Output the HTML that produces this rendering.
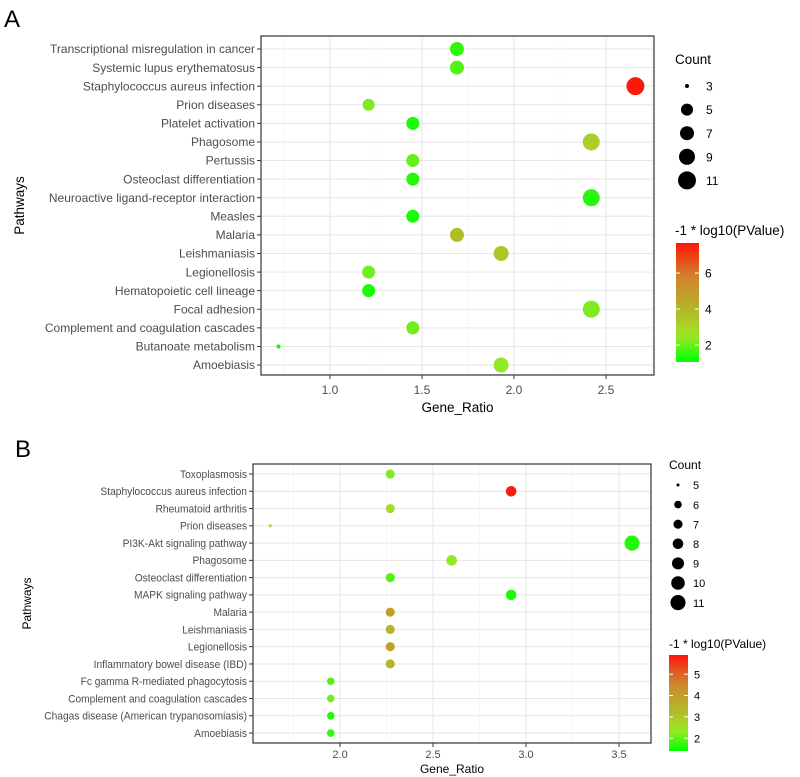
<!DOCTYPE html>
<html><head><meta charset="utf-8"><style>
body{margin:0;background:#fff;}
svg{display:block;font-family:"Liberation Sans",Arial,sans-serif;}
</style></head><body>
<svg id="s" width="800" height="777" viewBox="0 0 800 777"></svg>
<script>
const pathwaysA=["Transcriptional misregulation in cancer","Systemic lupus erythematosus","Staphylococcus aureus infection","Prion diseases","Platelet activation","Phagosome","Pertussis","Osteoclast differentiation","Neuroactive ligand-receptor interaction","Measles","Malaria","Leishmaniasis","Legionellosis","Hematopoietic cell lineage","Focal adhesion","Complement and coagulation cascades","Butanoate metabolism","Amoebiasis"];
const ratioA=[1.69,1.69,2.66,1.21,1.45,2.42,1.45,1.45,2.42,1.45,1.69,1.93,1.21,1.21,2.42,1.45,0.72,1.93];
const countA=[7,7,11,5,6,10,6,6,10,6,7,8,6,6,10,6,3,8];
const pvalA=[1.5,1.8,7.6,2.2,1.3,3.2,2.0,1.4,1.4,1.3,3.8,3.5,2.1,1.3,2.2,2.1,1.1,2.4];
const xTicksA=[1.0,1.5,2.0,2.5];
const countLegA=[3,5,7,9,11];
const colTicksA=[2,4,6];

const pathwaysB=["Toxoplasmosis","Staphylococcus aureus infection","Rheumatoid arthritis","Prion diseases","PI3K-Akt signaling pathway","Phagosome","Osteoclast differentiation","MAPK signaling pathway","Malaria","Leishmaniasis","Legionellosis","Inflammatory bowel disease (IBD)","Fc gamma R-mediated phagocytosis","Complement and coagulation cascades","Chagas disease (American trypanosomiasis)","Amoebiasis"];
const ratioB=[2.27,2.92,2.27,1.625,3.57,2.60,2.27,2.92,2.27,2.27,2.27,2.27,1.95,1.95,1.95,1.95];
const countB=[7,8,7,5,11,8,7,8,7,7,7,7,6,6,6,6];
const pvalB=[2.2,5.8,2.6,2.6,1.6,2.3,1.9,1.6,4.0,3.4,3.9,3.4,1.9,2.1,1.6,1.7];
const xTicksB=[2.0,2.5,3.0,3.5];
const countLegB=[5,6,7,8,9,10,11];
const colTicksB=[2,3,4,5];

const NS="http://www.w3.org/2000/svg";
const svg=document.getElementById('s');
function mk(tag,attrs,parent,text){const e=document.createElementNS(NS,tag);for(const k in attrs)e.setAttribute(k,attrs[k]);if(text!==undefined)e.textContent=text;(parent||svg).appendChild(e);return e;}
const stops=[[0,[0,255,0]],[0.22,[160,230,40]],[0.45,[180,180,40]],[0.72,[210,130,45]],[1,[255,20,10]]];
function col(t){t=Math.max(0,Math.min(1,t));for(let i=1;i<stops.length;i++){if(t<=stops[i][0]){const a=stops[i-1],b=stops[i];const f=(t-a[0])/(b[0]-a[0]);const c=a[1].map((v,j)=>Math.round(v+(b[1][j]-v)*f));return `rgb(${c[0]},${c[1]},${c[2]})`;}}return 'rgb(255,20,10)';}

function panel(cfg){
  const g=mk('g',{});
  
  
  const {x0,x1,y0,y1,d0,d1,r0,rStep,fs}=cfg;
  const X=v=>x0+(v-d0)/(d1-d0)*(x1-x0);
  const Y=i=>r0+i*rStep;
  const R=c=>cfg.rad(c);
  const C=v=>col((v-cfg.cmin)/(cfg.cmax-cfg.cmin));
  mk('rect',{x:x0,y:y0,width:x1-x0,height:y1-y0,fill:'#fff'},g);
  for(let k=0;k<cfg.xt.length+1;k++){const v=cfg.xt[0]-0.25+k*0.5;const px=X(v);if(px>x0&&px<x1){const l=mk('line',{x1:px,x2:px,y1:y0,y2:y1,stroke:'#f2f2f2','stroke-width':0.6},g);}}
  cfg.xt.forEach(v=>{const l=mk('line',{x1:X(v),x2:X(v),y1:y0,y2:y1,stroke:'#e6e6e6','stroke-width':1},g);});
  cfg.labels.forEach((s,i)=>{const l=mk('line',{x1:x0,x2:x1,y1:Y(i),y2:Y(i),stroke:'#e6e6e6','stroke-width':1},g);});
  cfg.labels.forEach((s,i)=>{const c=mk('circle',{cx:X(cfg.ratio[i]),cy:Y(i),r:R(cfg.count[i]),fill:C(cfg.pval[i])},g);});
  mk('rect',{x:x0,y:y0,width:x1-x0,height:y1-y0,fill:'none',stroke:'#333','stroke-width':1.2},g);
  cfg.labels.forEach((s,i)=>{mk('line',{x1:x0-4,x2:x0,y1:Y(i),y2:Y(i),stroke:'#333'},g);const t=mk('text',{x:x0-6,y:Y(i)+fs*0.35,'text-anchor':'end','font-size':fs,fill:'#4d4d4d'},g,s);if(cfg.squeeze)t.setAttribute('transform',`translate(${x0-6},0) scale(${cfg.squeeze},1) translate(${-(x0-6)},0)`);});
  cfg.xt.forEach(v=>{mk('line',{x1:X(v),x2:X(v),y1:y1,y2:y1+4,stroke:'#333'},g);const t=mk('text',{x:X(v),y:y1+cfg.xtOff,'text-anchor':'middle','font-size':fs,fill:'#4d4d4d'},g,v.toFixed(1));});
  const xt=mk('text',{x:(x0+x1)/2,y:cfg.xTitleY,'text-anchor':'middle','font-size':cfg.tfs,fill:'#000'},g,'Gene_Ratio');
  
  const yt=mk('text',{x:cfg.yTitleX,y:(y0+y1)/2,'text-anchor':'middle','font-size':cfg.tfs,fill:'#000',transform:`rotate(-90 ${cfg.yTitleX} ${(y0+y1)/2})`},g,'Pathways');
  
  const L=cfg.leg;
  const ct=mk('text',{x:L.x,y:L.y,'font-size':cfg.tfs,fill:'#000'},g,'Count');
  
  cfg.cleg.forEach((c,i)=>{const yy=L.y0+i*L.dy;const cc=mk('circle',{cx:L.cx,cy:yy,r:R(c),fill:'#000'},g);mk('text',{x:L.tx,y:yy+fs*0.38,'font-size':fs,fill:'#000'},g,String(c));});
  const ctl=mk('text',{x:L.x,y:L.cty,'font-size':cfg.tfs,fill:'#000'},g,'-1 * log10(PValue)');
  
  const gid='g'+cfg.name;const defs=mk('defs',{},g);const lg=mk('linearGradient',{id:gid,x1:0,y1:1,x2:0,y2:0},defs);
  for(let k=0;k<=10;k++)mk('stop',{offset:k/10,'stop-color':col(k/10)},lg);
  const bar=mk('rect',{x:L.bx,y:L.by0,width:L.bw,height:L.by1-L.by0,fill:`url(#${gid})`},g);
  
  const CY=v=>L.by1-(v-cfg.cmin)/(cfg.cmax-cfg.cmin)*(L.by1-L.by0);
  cfg.ct.forEach(v=>{mk('line',{x1:L.bx,x2:L.bx+4,y1:CY(v),y2:CY(v),stroke:'#fff'},g);mk('line',{x1:L.bx+L.bw-4,x2:L.bx+L.bw,y1:CY(v),y2:CY(v),stroke:'#fff'},g);mk('text',{x:L.bx+L.bw+6,y:CY(v)+fs*0.38,'font-size':fs,fill:'#000'},g,String(v));});
}
const la=mk('text',{x:4,y:27,'font-size':24,fill:'#000'},svg,'A');
const lb=mk('text',{x:15,y:457,'font-size':24,fill:'#000'},svg,'B');
panel({name:'panel-a',x0:261,x1:654,y0:36,y1:375,d0:0.625,d1:2.761,r0:49,rStep:18.59,fs:12,tfs:13.5,
 labels:pathwaysA,ratio:ratioA,count:countA,pval:pvalA,xt:xTicksA,cleg:countLegA,ct:colTicksA,cmin:1.06,cmax:7.67,
 rad:c=>c<5?2+(c-3)*2:6+(c-5)*0.5,xtOff:19,xTitleY:412,yTitleX:24,
 leg:{x:675,y:64,cx:687,tx:706,y0:86,dy:23.6,cty:235,bx:676,bw:23,by0:243,by1:362}});
panel({name:'panel-b',x0:253,x1:651,y0:464,y1:743,d0:1.532,d1:3.672,r0:474,rStep:17.27,fs:11,tfs:12,squeeze:0.93,
 labels:pathwaysB,ratio:ratioB,count:countB,pval:pvalB,xt:xTicksB,cleg:countLegB,ct:colTicksB,cmin:1.4,cmax:5.9,
 rad:c=>c<=5?1.5:3.8+(c-6)*0.75,xtOff:15,xTitleY:773,yTitleX:31,
 leg:{x:669,y:469,cx:678,tx:693,y0:485,dy:19.6,cty:648,bx:669,bw:19,by0:655,by1:751}});
</script>
</body></html>
